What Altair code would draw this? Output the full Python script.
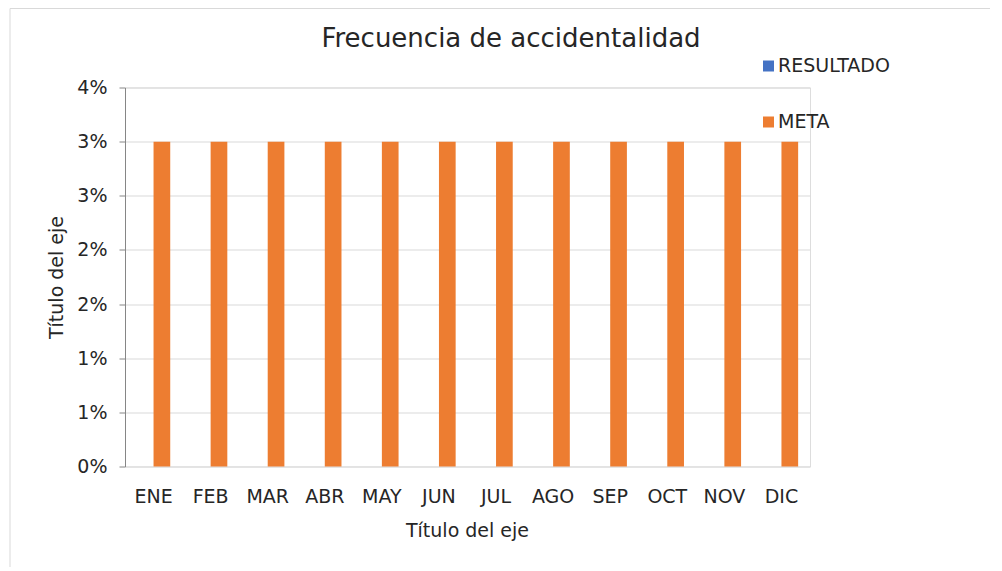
import json
import altair as alt
import pandas as pd

MONTHS = ["ENE", "FEB", "MAR", "ABR", "MAY", "JUN", "JUL", "AGO", "SEP", "OCT", "NOV", "DIC"]
SERIES = ["RESULTADO", "META"]
RESULTADO = [None] * 12
META = [0.03] * 12
Y_TICKS = [0, 0.005, 0.01, 0.015, 0.02, 0.025, 0.03, 0.035]
Y_TICK_LABELS = ["0%", "1%", "1%", "2%", "2%", "3%", "3%", "4%"]
COLORS = ["#4472C4", "#ED7D31"]

rows = []
for i, m in enumerate(MONTHS):
    rows.append({"mes": m, "serie": "RESULTADO", "valor": RESULTADO[i]})
    rows.append({"mes": m, "serie": "META", "valor": META[i]})
df = pd.DataFrame(rows)

FONT = "DejaVu Sans"
TXT = "#262626"
W, H = 685, 379

label_expr = json.dumps(Y_TICK_LABELS) + "[round(datum.value * 200)]"

bars = alt.Chart(df).mark_bar().encode(
    x=alt.X("mes:N", sort=MONTHS,
            scale=alt.Scale(paddingInner=0, paddingOuter=0),
            axis=alt.Axis(title="Título del eje", labelAngle=0, ticks=False, tickSize=0,
                          domain=False, labelPadding=21, labelFontSize=19,
                          labelColor=TXT, labelFont=FONT,
                          titleFont=FONT, titleFontSize=19, titleFontWeight="normal",
                          titleColor=TXT, titleX=342, titleY=69.5,
                          titleBaseline="alphabetic", titleAlign="center")),
    xOffset=alt.XOffset("serie:N", sort=SERIES,
                        scale=alt.Scale(domain=SERIES, paddingInner=0, paddingOuter=0.71)),
    y=alt.Y("valor:Q",
            scale=alt.Scale(domain=[0, 0.035], nice=False),
            axis=alt.Axis(title="Título del eje", values=Y_TICKS, labelExpr=label_expr,
                          grid=True, gridColor="#D9D9D9", gridWidth=1,
                          domain=True, domainColor="#868686", domainWidth=1,
                          ticks=True, tickColor="#868686", tickSize=6,
                          labelPadding=12, labelFontSize=19, labelColor=TXT, labelFont=FONT,
                          titleFont=FONT, titleFontSize=19, titleFontWeight="normal",
                          titleColor=TXT, titleX=-63, titleY=189.5, titleAngle=-90,
                          titleBaseline="alphabetic", titleAlign="center")),
    color=alt.Color("serie:N", sort=SERIES,
                    scale=alt.Scale(domain=SERIES, range=COLORS),
                    legend=alt.Legend(title=None, orient="none", legendX=634, legendY=-31,
                                      symbolType="square", symbolSize=121, symbolStrokeWidth=0,
                                      labelFontSize=19, labelFont=FONT, labelColor=TXT,
                                      labelOffset=0, rowPadding=36)),
)

frame_df = pd.DataFrame({"k": [0]})
left_border = alt.Chart(frame_df).mark_rule(color="#D9D9D9", strokeWidth=1).encode(
    x=alt.value(-115), y=alt.value(-79), y2=alt.value(480))
top_border = alt.Chart(frame_df).mark_rule(color="#D9D9D9", strokeWidth=1).encode(
    x=alt.value(-115), x2=alt.value(870), y=alt.value(-79))

chart = alt.layer(left_border, top_border, bars).properties(
    width=W, height=H,
    autosize=alt.AutoSizeParams(type="none"),
    padding={"left": 117, "top": 79.5, "right": 180, "bottom": 100},
    title=alt.TitleParams("Frecuencia de accidentalidad", fontSize=26, font=FONT,
                          fontWeight="normal", color=TXT, anchor="middle", dx=43.5,
                          offset=-64.5, baseline="alphabetic"),
).configure_view(stroke=None).configure(background="white")

chart.save("out.html", embed_options={"renderer": "svg", "actions": False})
